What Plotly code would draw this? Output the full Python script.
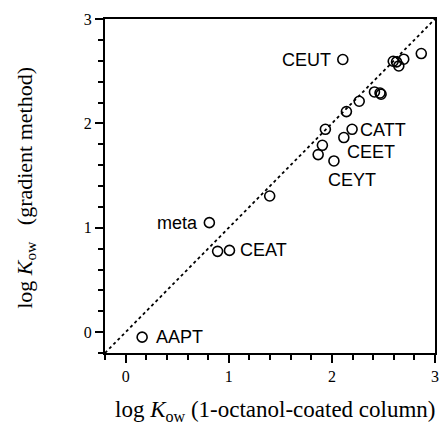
import plotly.graph_objects as go

# Data
x_vals = [0.160, 0.812, 0.892, 1.007, 1.397, 1.867, 1.908, 1.937, 2.020, 2.116, 2.196,
          2.141, 2.265, 2.413, 2.467, 2.477, 2.106, 2.595, 2.627, 2.649, 2.697, 2.867]
y_vals = [-0.048, 1.049, 0.774, 0.783, 1.304, 1.701, 1.790, 1.943, 1.640, 1.864, 1.943,
          2.113, 2.212, 2.301, 2.291, 2.279, 2.612, 2.595, 2.589, 2.550, 2.615, 2.669]
point_labels = ["AAPT", "meta", "", "CEAT", "", "", "", "", "CEYT", "CEET", "CATT",
                "", "", "", "", "", "CEUT", "", "", "", "", ""]
diag = [-0.2, 3.0]
axis_range = [-0.2, 3.0]

# label placement relative to its point (style only)
label_style = {
    "AAPT": dict(xanchor="left", xshift=12, yshift=0),
    "meta": dict(xanchor="right", xshift=-9, yshift=0),
    "CEAT": dict(xanchor="left", xshift=9, yshift=0),
    "CEYT": dict(xanchor="left", xshift=-8, yshift=-19),
    "CEET": dict(xanchor="left", xshift=1, yshift=-14),
    "CATT": dict(xanchor="left", xshift=6, yshift=-1),
    "CEUT": dict(xanchor="right", xshift=-10, yshift=0),
}

fig = go.Figure()
fig.add_trace(go.Scatter(x=diag, y=diag, mode="lines",
                         line=dict(color="black", width=1.8, dash="dot"),
                         hoverinfo="skip", showlegend=False))
fig.add_trace(go.Scatter(x=x_vals, y=y_vals, mode="markers",
                         marker=dict(symbol="circle-open", size=10,
                                     color="black", line=dict(width=1.6, color="black")),
                         showlegend=False))

for xv, yv, lab in zip(x_vals, y_vals, point_labels):
    if lab:
        st = label_style[lab]
        fig.add_annotation(x=xv, y=yv, text=lab, showarrow=False,
                           xanchor=st["xanchor"], yanchor="middle",
                           xshift=st["xshift"], yshift=st["yshift"],
                           font=dict(family="Liberation Sans", size=18, color="black"))

fig.add_annotation(xref="paper", yref="paper", x=0.516, y=-0.175,
                   text="log <i>K</i><sub>ow</sub>&#160;(1-octanol-coated column)",
                   showarrow=False, xanchor="center", yanchor="middle",
                   font=dict(family="Liberation Serif", size=23, color="black"))
fig.add_annotation(xref="paper", yref="paper", x=-0.24, y=0.494,
                   text="log <i>K</i><sub>ow</sub>&#160;&#160;&#160;(gradient method)",
                   textangle=-90, showarrow=False, xanchor="center", yanchor="middle",
                   font=dict(family="Liberation Serif", size=22, color="black"))

axis_common = dict(
    range=axis_range, showgrid=False, zeroline=False,
    showline=True, linecolor="black", linewidth=2, mirror=True,
    tickmode="linear", tick0=0, dtick=1,
    ticks="outside", ticklen=8, tickwidth=1.5, tickcolor="black",
    tickfont=dict(family="Liberation Serif", size=16, color="black"),
    minor=dict(tickmode="linear", tick0=0, dtick=0.2, ticks="outside",
               ticklen=5, tickwidth=1.5, tickcolor="black", showgrid=False),
)
fig.update_xaxes(**axis_common)
fig.update_yaxes(**axis_common)

fig.update_layout(width=446, height=426,
                  margin=dict(l=105, r=7, t=19, b=73),
                  paper_bgcolor="white", plot_bgcolor="white")
fig.write_html("out.html")
